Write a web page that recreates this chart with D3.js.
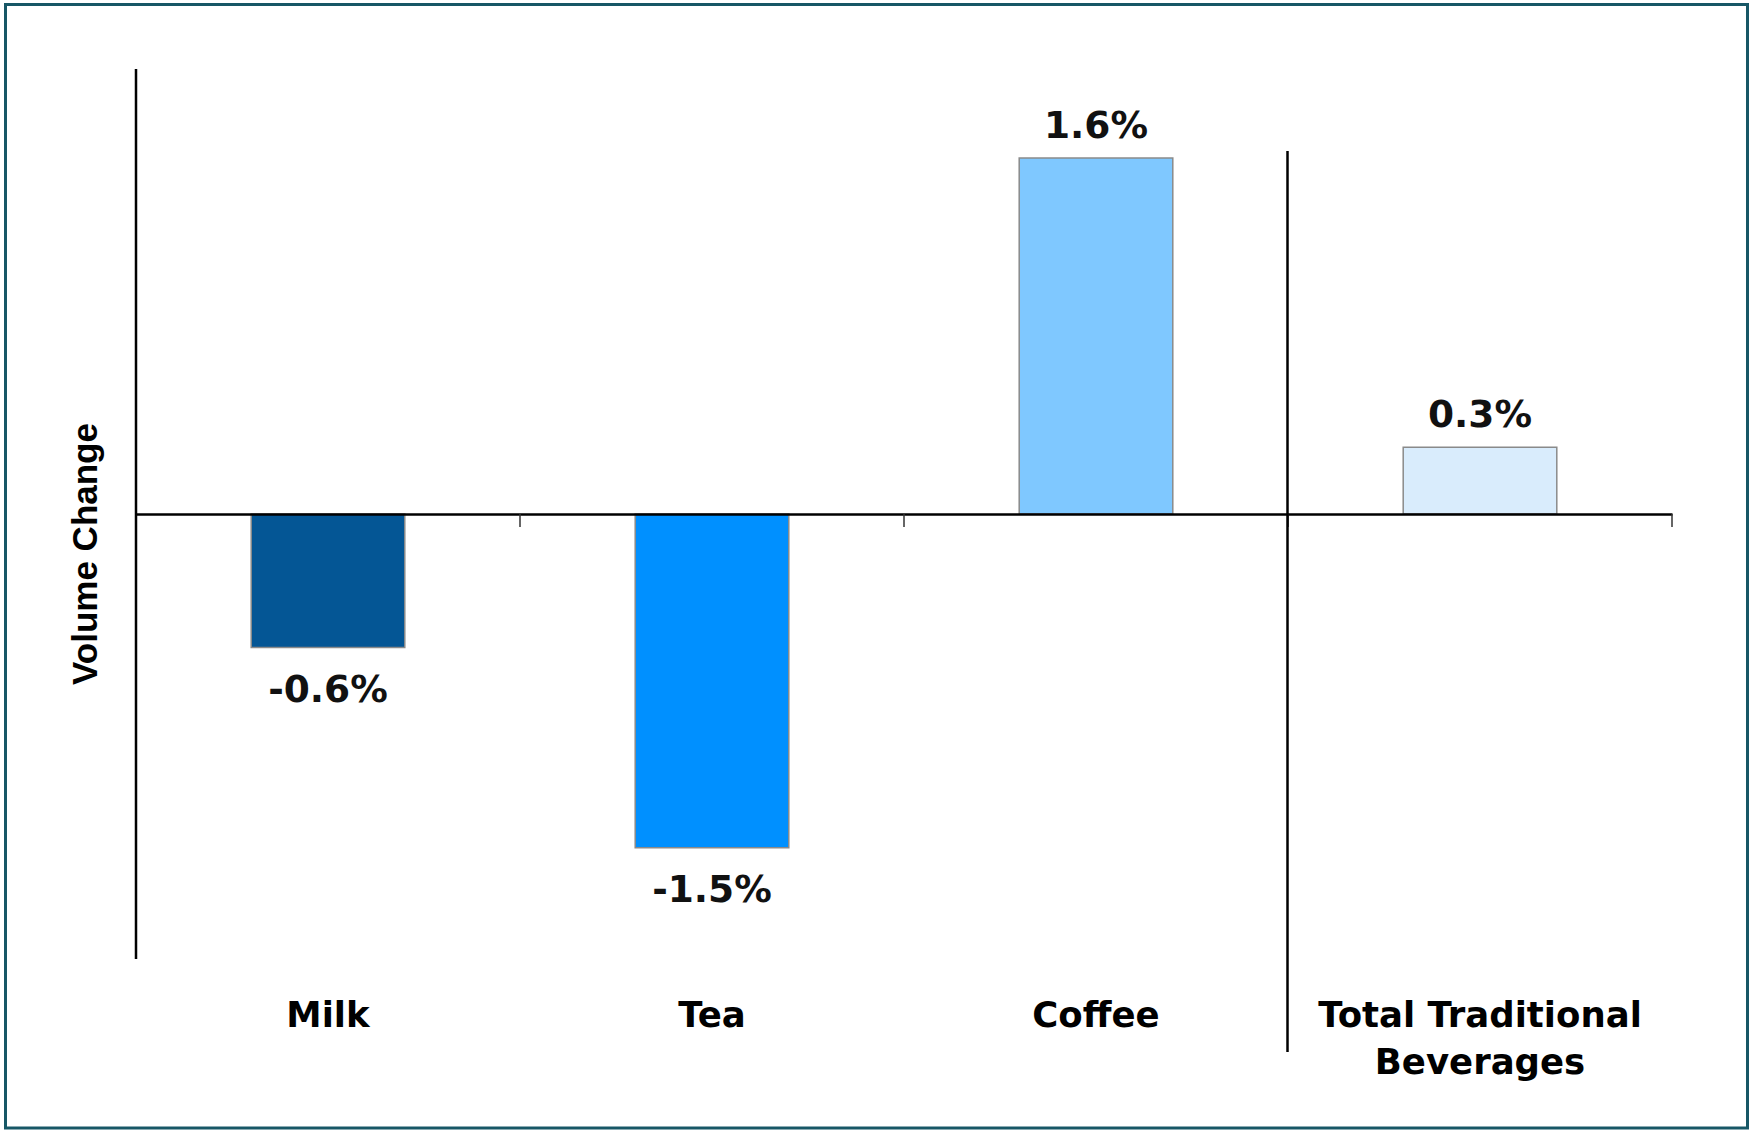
<!DOCTYPE html>
<html>
<head>
<meta charset="utf-8">
<script src="https://cdn.jsdelivr.net/npm/d3@7"></script>
<style>
  html, body { margin: 0; padding: 0; background: #ffffff; }
  svg { display: block; }
</style>
</head>
<body>
<svg id="chart" width="1753" height="1136"></svg>
<script>
// Volume change by traditional beverage category
const categories = ["Milk", "Tea", "Coffee", "Total Traditional Beverages"];
const categoryLines = [["Milk"], ["Tea"], ["Coffee"], ["Total Traditional", "Beverages"]];
const values = [-0.6, -1.5, 1.6, 0.3];
const valueLabels = ["-0.6%", "-1.5%", "1.6%", "0.3%"];
const barColors = ["#045695", "#0090ff", "#7fc8ff", "#d9ecfc"];
const yDomain = [-2, 2];

const svg = d3.select("#chart");

// outer frame
svg.append("rect")
  .attr("x", 5.5).attr("y", 4.5)
  .attr("width", 1742).attr("height", 1123.5)
  .attr("fill", "#ffffff")
  .attr("stroke", "#175766")
  .attr("stroke-width", 3);

const plot = { left: 136, right: 1672, top: 69, bottom: 959 };

const x = d3.scaleBand()
  .domain(categories)
  .range([plot.left, plot.right])
  .paddingInner(0.6)
  .paddingOuter(0.3);

const y = d3.scaleLinear()
  .domain(yDomain)
  .range([plot.bottom, plot.top]);

const step = x.step();
const bandStart = c => x(c) - x.paddingOuter() * step;

// bars
svg.append("g").selectAll("rect")
  .data(categories)
  .join("rect")
  .attr("x", c => x(c))
  .attr("y", (c, i) => y(Math.max(0, values[i])))
  .attr("width", x.bandwidth())
  .attr("height", (c, i) => Math.abs(y(values[i]) - y(0)))
  .attr("fill", (c, i) => barColors[i])
  .attr("stroke", "#8a8a8a")
  .attr("stroke-width", 1.5);

// vertical value axis line
svg.append("line")
  .attr("x1", plot.left).attr("x2", plot.left)
  .attr("y1", plot.top).attr("y2", plot.bottom)
  .attr("stroke", "#000").attr("stroke-width", 2.5);

// zero baseline with category tick marks
const xAxis = d3.axisBottom(x).tickValues([]).tickSizeOuter(0);
const axisG = svg.append("g")
  .attr("transform", `translate(0,${y(0)})`)
  .call(xAxis);
axisG.select(".domain").attr("stroke", "#000").attr("stroke-width", 2.5);

const boundaries = categories.map(c => bandStart(c) + step);
svg.append("g").selectAll("line")
  .data(boundaries)
  .join("line")
  .attr("x1", d => d).attr("x2", d => d)
  .attr("y1", y(0)).attr("y2", y(0) + 13)
  .attr("stroke", "#333").attr("stroke-width", 1.5);

// divider separating the total from individual categories
const divX = bandStart(categories[3]) - 0.5;
svg.append("line")
  .attr("x1", divX).attr("x2", divX)
  .attr("y1", 151).attr("y2", 1052)
  .attr("stroke", "#000").attr("stroke-width", 2.5);

// value labels
svg.append("g").selectAll("text")
  .data(categories)
  .join("text")
  .attr("x", c => x(c) + x.bandwidth() / 2)
  .attr("y", (c, i) => values[i] >= 0 ? y(values[i]) - 20 : y(values[i]) + 54)
  .attr("text-anchor", "middle")
  .attr("font-family", "'DejaVu Sans', Verdana, sans-serif")
  .attr("font-weight", "bold")
  .attr("font-size", 37.5)
  .attr("fill", "#111")
  .text((c, i) => valueLabels[i]);

// category labels
const catG = svg.append("g").selectAll("text")
  .data(categories)
  .join("text")
  .attr("x", c => x(c) + x.bandwidth() / 2)
  .attr("y", 1027)
  .attr("text-anchor", "middle")
  .attr("font-family", "'DejaVu Sans', Verdana, sans-serif")
  .attr("font-weight", "bold")
  .attr("font-size", 35.5)
  .attr("fill", "#000");
catG.each(function (c, i) {
  const t = d3.select(this);
  categoryLines[i].forEach((line, k) => {
    t.append("tspan")
      .attr("x", x(c) + x.bandwidth() / 2)
      .attr("dy", k === 0 ? 0 : 47)
      .text(line);
  });
});

// value axis title
svg.append("text")
  .attr("transform", `translate(97,554) rotate(-90)`)
  .attr("text-anchor", "middle")
  .attr("font-family", "'Liberation Sans', Arial, sans-serif")
  .attr("font-weight", "bold")
  .attr("font-size", 35)
  .attr("fill", "#000")
  .text("Volume Change");
</script>
</body>
</html>
